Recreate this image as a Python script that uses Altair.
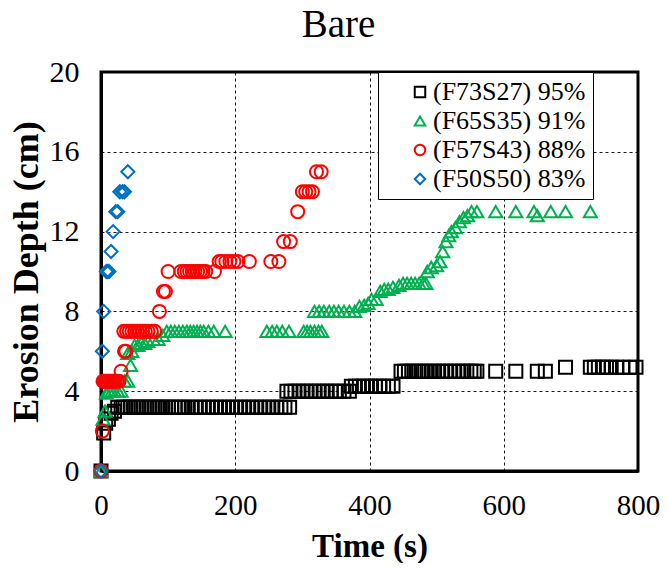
import altair as alt
import pandas as pd

series_names = ["(F73S27) 95%", "(F65S35) 91%", "(F57S43) 88%", "(F50S50) 83%"]
series_colors = ["#000000", "#00B050", "#FF0000", "#0070C0"]
series_shapes = ["square", "triangle-up", "circle", "diamond"]

# (F73S27) 95%
f73_t = [0, 4, 7, 11, 15, 20, 25, 30, 33, 36, 40, 44, 48, 52, 56, 60, 64, 68, 72, 76, 80,
         84, 88, 92, 96, 100, 105, 110, 115, 120, 125, 130, 136, 142, 148, 154, 160, 166,
         172, 178, 184, 190, 196, 202, 208, 214, 220, 226, 232, 238, 244, 250, 256, 262,
         268, 274, 281,
         277, 283, 289, 295, 301, 307, 313, 319, 325, 331, 337, 343, 349, 355, 362, 370,
         373, 379, 385, 391, 397, 403, 409, 415, 421, 428, 435,
         447, 452, 458, 463, 469, 474, 480, 486, 492, 497, 503, 509, 515, 521, 527, 533,
         539, 545, 551, 556, 560, 588, 618, 650, 662, 692,
         729, 735, 741, 747, 753, 760, 768, 777, 788, 797]
f73_d = [0, 1.9, 2.4, 2.6, 2.9, 3.0, 3.2, 3.2, 3.2, 3.2, 3.2, 3.2, 3.2, 3.2, 3.2, 3.2, 3.2,
         3.2, 3.2, 3.2, 3.2, 3.2, 3.2, 3.2, 3.2, 3.2, 3.2, 3.2, 3.2, 3.2, 3.2, 3.2, 3.2,
         3.2, 3.2, 3.2, 3.2, 3.2, 3.2, 3.2, 3.2, 3.2, 3.2, 3.2, 3.2, 3.2, 3.2, 3.2, 3.2,
         3.2, 3.2, 3.2, 3.2, 3.2, 3.2, 3.2, 3.2,
         4.0, 4.0, 4.0, 4.0, 4.0, 4.0, 4.0, 4.0, 4.0, 4.0, 4.0, 4.0, 4.0, 4.0, 4.0, 4.0,
         4.25, 4.25, 4.25, 4.25, 4.25, 4.25, 4.25, 4.25, 4.25, 4.25, 4.25,
         5.0, 5.0, 5.0, 5.0, 5.0, 5.0, 5.0, 5.0, 5.0, 5.0, 5.0, 5.0, 5.0, 5.0, 5.0, 5.0,
         5.0, 5.0, 5.0, 5.0, 5.0, 5.0, 5.0, 5.0, 5.0, 5.2,
         5.2, 5.2, 5.2, 5.2, 5.2, 5.2, 5.2, 5.2, 5.2, 5.2]

# (F65S35) 91%
f65_t = [0, 3, 6, 8, 12, 16, 20, 25, 30, 35, 40, 44, 40, 46, 50, 55, 60, 65, 70, 78, 85, 92,
         98, 104, 110, 116, 122, 128, 133, 138, 143, 148, 153, 160, 168, 185,
         247, 255, 262, 270, 280, 302, 307, 312, 318, 324, 329,
         318, 325, 332, 340, 347, 354, 362, 370, 378, 385, 392, 398, 403, 410, 416, 422,
         428, 435, 444, 450, 456, 462, 468, 474, 480, 484, 486, 492, 500, 505, 509, 514,
         518, 522, 528, 534, 540, 546, 552, 560, 588, 618, 645, 650, 670, 692, 729]
f65_d = [0, 2.6, 3.0, 3.9, 4.0, 4.0, 4.0, 4.0, 4.0, 4.5, 4.5, 5.3, 5.9, 6.0, 6.3, 6.3, 6.4,
         6.4, 6.5, 6.6, 6.6, 6.8,
         7, 7, 7, 7, 7, 7, 7, 7, 7, 7, 7, 7, 7, 7,
         7, 7, 7, 7, 7, 7, 7, 7, 7, 7, 7,
         8, 8, 8, 8, 8, 8, 8, 8, 8, 8.25, 8.3, 8.4, 8.6, 8.6, 9.0, 9.1,
         9.1, 9.2, 9.3, 9.4, 9.4, 9.4, 9.4, 9.4, 9.4, 9.4, 10.0, 10.2, 10.3, 10.5, 11.0, 11.5,
         11.8, 12.0, 12.2, 12.5, 12.7, 12.8, 13, 13, 13, 13, 13, 12.8, 13, 13, 13]

# (F57S43) 88%
f57_t = [0, 2, 3, 5, 7, 9, 11, 13, 15, 17, 19, 21, 24, 27, 30, 35, 37, 34, 38, 42, 46, 50,
         54, 58, 62, 66, 70, 75, 80, 87, 93, 96, 100, 119, 124, 128, 132, 136, 140, 144,
         148, 152, 156, 169, 176, 180, 186, 192, 198, 204, 221, 253, 265, 272, 282, 293,
         300, 305, 310, 315, 321, 328]
f57_d = [0, 2, 4.5, 4.5, 4.5, 4.5, 4.5, 4.5, 4.5, 4.5, 4.5, 4.5, 4.5, 4.5, 5, 6, 6, 7, 7, 7,
         7, 7, 7, 7, 7, 7, 7, 7, 7, 8, 9, 9, 10, 10, 10, 10, 10, 10, 10, 10, 10, 10, 10, 10,
         10.5, 10.5, 10.5, 10.5, 10.5, 10.5, 10.5, 10.5, 10.5, 11.5, 11.5, 13, 14, 14, 14,
         14, 15, 15]

# (F50S50) 83%
f50_t = [0, 2, 4, 8, 10, 12, 15, 18, 22, 25, 28, 32, 35, 40]
f50_d = [0, 6, 8, 10, 10, 10, 11, 12, 13, 13, 14, 14, 14, 15]

rows = []
for name, ts, ds in zip(series_names,
                        [f73_t, f65_t, f57_t, f50_t],
                        [f73_d, f65_d, f57_d, f50_d]):
    for t, d in zip(ts, ds):
        rows.append({"series": name, "time": t, "depth": d})
df = pd.DataFrame(rows)
df["order"] = range(len(df))

SERIF = "Liberation Serif"

legend = alt.Legend(title=None, orient="none", legendX=277, legendY=0,
                    strokeColor="black", fillColor="white",
                    padding=7, symbolOffset=22, labelOffset=0, labelLimit=400,
                    labelFont=SERIF, labelFontSize=26,
                    labelColor="black", symbolSize=110,
                    symbolStrokeWidth=2, rowPadding=3)

chart = alt.Chart(df).mark_point(
    filled=False, strokeWidth=2, size=170, opacity=1
).encode(
    x=alt.X("time:Q",
            scale=alt.Scale(domain=[0, 800], nice=False, zero=False),
            axis=alt.Axis(values=[0, 200, 400, 600, 800], title="Time (s)",
                          labelPadding=20, titlePadding=10, labelFlush=False,
                          labelFontSize=29, titleFontSize=33)),
    y=alt.Y("depth:Q",
            scale=alt.Scale(domain=[0, 20], nice=False),
            axis=alt.Axis(values=[0, 4, 8, 12, 16, 20], title="Erosion Depth (cm)",
                          labelPadding=22, titlePadding=4, labelFlush=False,
                          titleFontSize=36)),
    color=alt.Color("series:N",
                    scale=alt.Scale(domain=series_names, range=series_colors),
                    legend=legend),
    shape=alt.Shape("series:N",
                    scale=alt.Scale(domain=series_names, range=series_shapes),
                    legend=legend),
    order=alt.Order("order:Q"),
).properties(
    width=537, height=399,
    title=alt.Title("Bare", font=SERIF, fontSize=39, fontWeight="normal",
                    color="black", offset=12, dx=-31),
    autosize=alt.AutoSizeParams(type="none"),
    padding={"left": 93, "top": 64, "right": 22, "bottom": 92},
).configure_view(
    stroke="black", strokeWidth=3
).configure_axis(
    labelFont=SERIF, labelFontSize=30, labelColor="black",
    titleFont=SERIF, titleFontSize=30, titleFontWeight="bold", titleColor="black",
    ticks=False, domainColor="black", domainWidth=3,
    grid=True, gridColor="black", gridDash=[3, 3], gridWidth=1, gridOpacity=0.9,
).configure_legend(
    cornerRadius=0, labelFont=SERIF, labelFontSize=26, labelColor="black"
)

chart.save("out.html", embed_options={"renderer": "svg", "actions": False})
